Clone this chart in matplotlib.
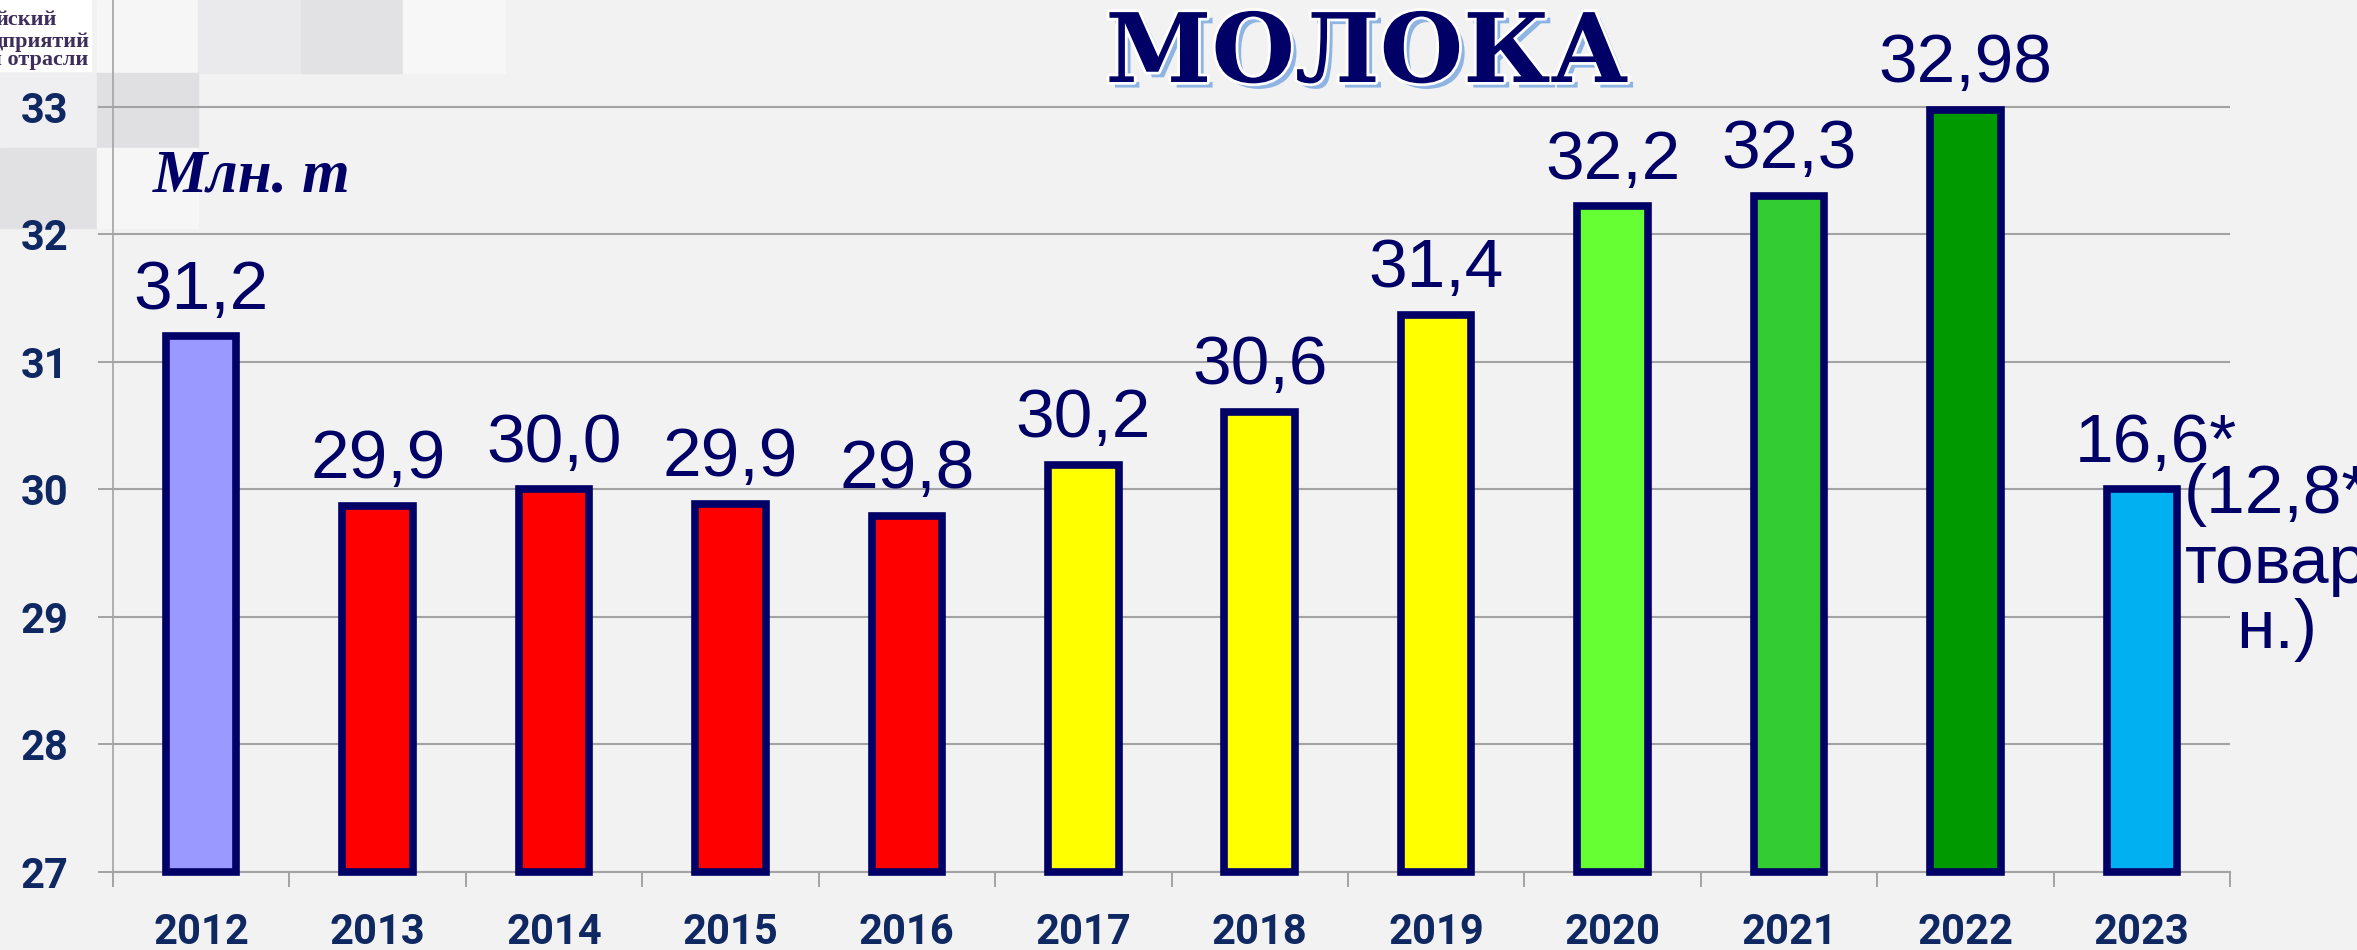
import matplotlib.pyplot as plt
import matplotlib.patheffects as pe
from matplotlib.patches import Rectangle

# data
years = ["2012", "2013", "2014", "2015", "2016", "2017",
         "2018", "2019", "2020", "2021", "2022", "2023"]
# bar heights as drawn (2023 bar is drawn at 30 although its label says 16,6*)
values = [31.2, 29.87, 30.0, 29.89, 29.79, 30.19,
          30.61, 31.37, 32.22, 32.3, 32.98, 30.0]
labels = ["31,2", "29,9", "30,0", "29,9", "29,8", "30,2",
          "30,6", "31,4", "32,2", "32,3", "32,98", "16,6*"]
colors = ["#9999FF", "#FF0000", "#FF0000", "#FF0000", "#FF0000", "#FFFF00",
          "#FFFF00", "#FFFF00", "#66FF33", "#33CC33", "#009900", "#00B0F0"]
note_lines = ["(12,8*", "товар", "н.)"]
y_ticks = [27, 28, 29, 30, 31, 32, 33]

W, H = 2357, 950
NAVY = "#000066"
TICK_BLUE = "#0F2862"
GREY = "#A3A3A3"
Y_MIN = 27


def fx(px):
    return px / W


def fy(py):
    return 1 - py / H


fig = plt.figure(figsize=(W / 100, H / 100), dpi=100, facecolor="#F2F2F2")

# faint background squares in the top-left corner
squares = [
    (97, 0, 101, 73, "#F6F6F7"),
    (198, 0, 103, 73, "#EAEAEC"),
    (301, 0, 102, 73, "#E2E2E4"),
    (403, 0, 102, 73, "#F7F7F7"),
    (0, 73, 97, 75, "#EFEFF1"),
    (97, 73, 101, 75, "#E0E0E3"),
    (0, 148, 97, 80, "#E1E1E4"),
    (97, 148, 101, 80, "#F6F6F6"),
]
for x0, y0, w, h, c in squares:
    fig.patches.append(Rectangle((fx(x0), fy(y0 + h)), w / W, h / H,
                                 transform=fig.transFigure, color=c, zorder=-2))
fig.patches.append(Rectangle((0, fy(71)), fx(91), 71 / H,
                             transform=fig.transFigure, color="white", zorder=-1))

ax = fig.add_axes([fx(113), 78 / H, fx(2230 - 113), 1 - 78 / H])
ax.set_facecolor("none")

x = list(range(len(years)))
ax.bar(x, [v - Y_MIN for v in values], bottom=Y_MIN, width=0.40,
       color=colors, edgecolor=NAVY, linewidth=5.5, zorder=3, clip_on=False)

for i, (v, lab) in enumerate(zip(values, labels)):
    dx = 10 if i == len(values) - 1 else 0
    ax.annotate(lab, (i, v), xytext=(dx, 10), textcoords="offset points",
                ha="center", va="bottom", fontsize=50, color=NAVY,
                family="Liberation Sans", zorder=5, annotation_clip=False)

# side note next to the 2023 bar
for line, dy in zip(note_lines, [-17, -67, -114]):
    ax.annotate(line, (x[-1], values[-1]), xytext=(97, dy),
                textcoords="offset points", ha="center", va="baseline",
                fontsize=50, color=NAVY, family="Liberation Sans",
                zorder=5, annotation_clip=False)

ax.set_xlim(-0.5, len(years) - 0.5)
ax.set_ylim(Y_MIN, Y_MIN + 872 / 127.5)
ax.set_yticks(y_ticks)
ax.set_xticks(x)
ax.set_xticklabels(years)
ax.set_xticks([i - 0.5 for i in range(len(years) + 1)], minor=True)

ax.tick_params(axis="x", which="major", length=0, pad=29)
ax.tick_params(axis="x", which="minor", length=11, width=1.4, color=GREY)
ax.tick_params(axis="y", length=11, width=1.4, color=GREY, pad=21)
for lab in ax.get_xticklabels() + ax.get_yticklabels():
    lab.set_fontfamily("Roboto")
    lab.set_fontweight("bold")
    lab.set_fontsize(30)
    lab.set_color(TICK_BLUE)

ax.grid(axis="y", color=GREY, linewidth=1.5, zorder=1)
ax.set_axisbelow(True)
for side in ["top", "right"]:
    ax.spines[side].set_visible(False)
ax.spines["left"].set_color(GREY)
ax.spines["left"].set_linewidth(1.2)
ax.spines["bottom"].set_color(GREY)
ax.spines["bottom"].set_linewidth(1.5)

# title with white outline and light blue shadow
fig.text(fx(1367), fy(82), "МОЛОКА", ha="center", va="baseline",
         fontsize=69, fontweight="bold", family="DejaVu Serif", color=NAVY,
         path_effects=[pe.SimplePatchShadow(offset=(4, -4), shadow_rgbFace="#8EB4E3", alpha=1.0),
                       pe.Stroke(linewidth=4, foreground="white"),
                       pe.Normal()])

fig.text(fx(153), fy(192), "Млн. т", ha="left", va="baseline", fontsize=44,
         fontweight="bold", style="italic", family="Liberation Serif", color=NAVY)

# cut-off logo text in the corner
for txt, xr, yb in [("йский", 57, 25), ("дприятий", 90, 47), ("й отрасли", 88, 65)]:
    fig.text(fx(xr), fy(yb), txt, ha="right", va="baseline", fontsize=16,
             fontweight="bold", family="Liberation Serif", color="#3D2E5C")

fig.savefig("out.png", dpi=100, facecolor=fig.get_facecolor())
